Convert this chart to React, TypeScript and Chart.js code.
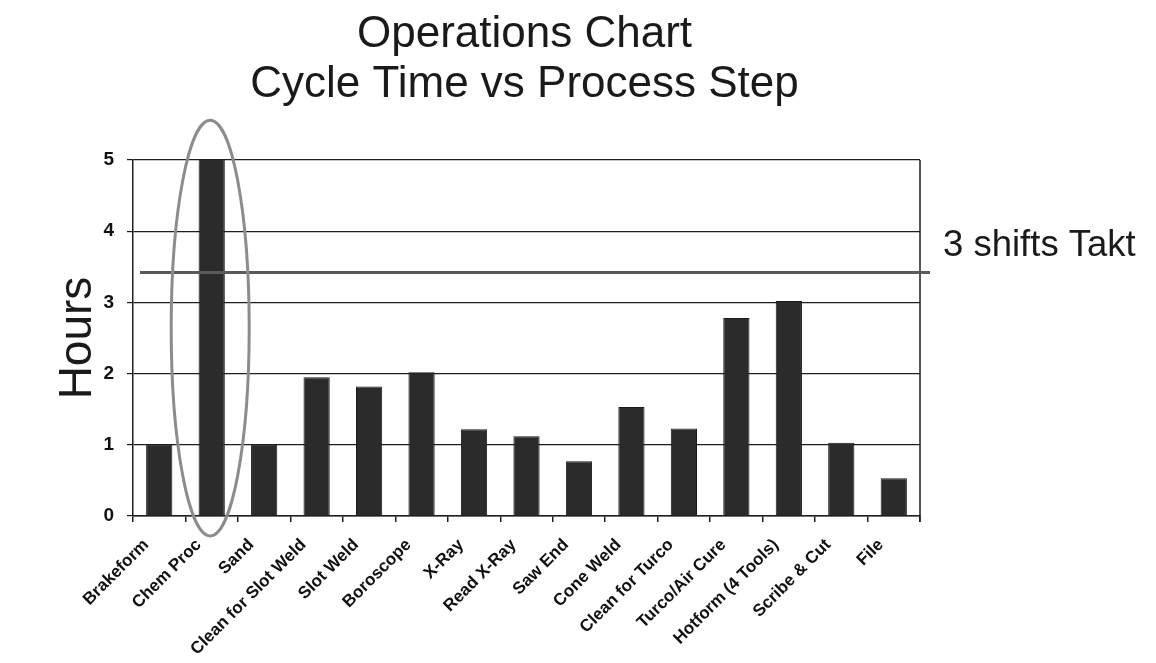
import React, { useEffect, useRef } from 'react';
import { Chart, registerables } from 'chart.js';

Chart.register(...registerables);

const categories = [
  'Brakeform',
  'Chem Proc',
  'Sand',
  'Clean for Slot Weld',
  'Slot Weld',
  'Boroscope',
  'X-Ray',
  'Read X-Ray',
  'Saw End',
  'Cone Weld',
  'Clean for Turco',
  'Turco/Air Cure',
  'Hotform (4 Tools)',
  'Scribe & Cut',
  'File',
];
const hours = [1.0, 5.05, 1.0, 1.95, 1.82, 2.02, 1.22, 1.12, 0.77, 1.53, 1.23, 2.78, 3.02, 1.03, 0.53];
const yTicks = [0, 1, 2, 3, 4, 5];
const taktHours = 3.42;
const taktLabel = '3 shifts Takt';
const titleLines = ['Operations Chart', 'Cycle Time vs Process Step'];
const yAxisTitle = 'Hours';
const highlightIndex = 1;
const highlightRange = [-0.28, 5.56];

const FONT = '"Liberation Sans", Arial, Helvetica, sans-serif';

const overlay = {
  id: 'overlay',
  afterDatasetsDraw(chart: any) {
    const { ctx, chartArea: a, scales } = chart;
    const x = scales.x;
    const y = scales.y;
    ctx.save();
    // right border of plot
    ctx.strokeStyle = '#1e1e1e';
    ctx.lineWidth = 1.5;
    ctx.beginPath();
    ctx.moveTo(a.right, a.top);
    ctx.lineTo(a.right, a.bottom + 6);
    ctx.stroke();
    // takt line
    const ty = y.getPixelForValue(taktHours);
    ctx.strokeStyle = '#595959';
    ctx.lineWidth = 3;
    ctx.beginPath();
    ctx.moveTo(a.left + 7, ty);
    ctx.lineTo(a.right + 10, ty);
    ctx.stroke();
    // takt label
    ctx.fillStyle = '#1a1a1a';
    ctx.font = `36.5px ${FONT}`;
    ctx.textAlign = 'left';
    ctx.textBaseline = 'alphabetic';
    ctx.fillText(taktLabel, a.right + 23, ty - 16);
    // highlight ellipse
    const cx = x.getPixelForValue(highlightIndex) - 1.5;
    const top = y.getPixelForValue(highlightRange[1]);
    const bot = y.getPixelForValue(highlightRange[0]);
    ctx.strokeStyle = '#8c8c8c';
    ctx.lineWidth = 3;
    ctx.beginPath();
    ctx.ellipse(cx, (top + bot) / 2, 39, (bot - top) / 2, 0, 0, Math.PI * 2);
    ctx.stroke();
    ctx.restore();
  },
  afterDraw(chart: any) {
    const { ctx, chartArea: a } = chart;
    ctx.save();
    ctx.fillStyle = '#1a1a1a';
    ctx.font = `44px ${FONT}`;
    ctx.textAlign = 'center';
    ctx.textBaseline = 'alphabetic';
    const cx = (a.left + a.right) / 2 - 2;
    ctx.fillText(titleLines[0], cx, 47);
    ctx.fillText(titleLines[1], cx, 97);
    ctx.restore();
  },
};

export default function App() {
  const ref = useRef<HTMLCanvasElement | null>(null);

  useEffect(() => {
    document.body.style.margin = '0';
    const canvas = ref.current;
    if (!canvas) return;
    const chart = new Chart(canvas, {
      type: 'bar',
      data: {
        labels: categories,
        datasets: [
          {
            data: hours,
            backgroundColor: '#2b2b2b',
            borderColor: '#1a1a1a',
            borderWidth: 1,
            barPercentage: 0.5,
            categoryPercentage: 1,
          },
        ],
      },
      options: {
        responsive: false,
        animation: false,
        layout: { padding: { top: 160, right: 236, left: 0, bottom: 0 } },
        plugins: {
          legend: { display: false },
          tooltip: { enabled: false },
          title: { display: false },
        },
        scales: {
          x: {
            offset: true,
            grid: {
              offset: true,
              drawOnChartArea: false,
              drawTicks: true,
              tickLength: 6,
              color: '#1e1e1e',
              lineWidth: 1.5,
            },
            border: { display: true, color: '#1e1e1e', width: 1.5 },
            ticks: {
              autoSkip: false,
              maxRotation: 45,
              minRotation: 45,
              padding: 13,
              labelOffset: -13,
              color: '#111',
              font: { family: FONT, size: 17, weight: 'bold' },
            },
            afterFit(scale: any) {
              scale.height = 147;
            },
          },
          y: {
            min: 0,
            max: 5,
            afterBuildTicks(scale: any) {
              scale.ticks = yTicks.map((v) => ({ value: v }));
            },
            grid: {
              color: '#1e1e1e',
              lineWidth: 1.2,
              tickLength: 6,
            },
            border: { display: true, color: '#1e1e1e', width: 1.5 },
            ticks: {
              padding: 13,
              color: '#111',
              font: { family: FONT, size: 19, weight: 'bold' },
            },
            title: {
              display: true,
              text: yAxisTitle,
              color: '#1a1a1a',
              font: { family: FONT, size: 46, weight: 'normal' },
              padding: { top: 51, bottom: 0 },
            },
            afterFit(scale: any) {
              scale.width = 133;
            },
          },
        },
      },
      plugins: [overlay],
    });
    return () => chart.destroy();
  }, []);

  return (
    <div style={{ width: 1156, height: 663, background: '#fff' }}>
      <canvas ref={ref} width={1156} height={663} style={{ display: 'block' }} />
    </div>
  );
}
